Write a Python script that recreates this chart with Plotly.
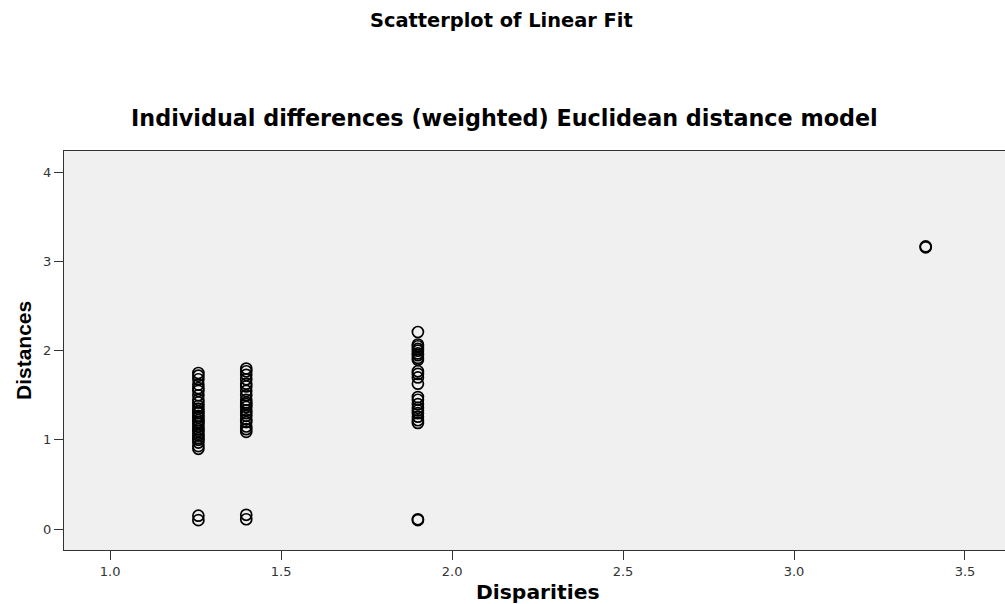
import plotly.graph_objects as go

# Disparity levels and the fitted distances observed at each level
disparity_levels = [1.258, 1.398, 1.90, 3.385]
distances_at_126 = [1.75, 1.72, 1.68, 1.62, 1.58, 1.55, 1.50, 1.45, 1.42, 1.38, 1.35,
                    1.32, 1.30, 1.27, 1.25, 1.22, 1.20, 1.18, 1.15, 1.12, 1.10, 1.07,
                    1.05, 1.02, 1.00, 0.97, 0.93, 0.90, 0.15, 0.10]
distances_at_140 = [1.80, 1.77, 1.73, 1.68, 1.63, 1.60, 1.55, 1.50, 1.45, 1.42, 1.40,
                    1.37, 1.33, 1.30, 1.27, 1.23, 1.20, 1.15, 1.12, 1.09, 0.16, 0.11]
distances_at_190 = [2.21, 2.07, 2.05, 2.02, 2.00, 1.97, 1.95, 1.92, 1.90, 1.77, 1.74,
                    1.70, 1.63, 1.48, 1.45, 1.40, 1.36, 1.33, 1.30, 1.26, 1.22, 1.19,
                    0.11, 0.10]
distances_at_339 = [3.17, 3.16]

groups = [distances_at_126, distances_at_140, distances_at_190, distances_at_339]
disparities = []
distances = []
for level, vals in zip(disparity_levels, groups):
    disparities += [level] * len(vals)
    distances += vals

x_ticks = [1.0, 1.5, 2.0, 2.5, 3.0, 3.5]
y_ticks = [0, 1, 2, 3, 4]

WIDE = "DejaVu Sans, Verdana, sans-serif"
SANS = "Liberation Sans, Arial, sans-serif"

W, H = 1005, 604
ML, MR, MT, MB = 64, 0, 151, 54
PW, PH = W - ML - MR, H - MT - MB


def px_x(x):
    """Page pixel x -> paper coordinate."""
    return (x - ML) / PW


def px_y(y):
    """Page pixel y (from top) -> paper coordinate."""
    return (H - MB - y) / PH


fig = go.Figure()
fig.add_trace(go.Scatter(
    x=disparities, y=distances, mode="markers",
    marker=dict(symbol="circle-open", size=11, color="black",
                line=dict(width=1.7, color="black")),
    showlegend=False, hoverinfo="x+y",
))

fig.update_layout(
    width=W, height=H,
    margin=dict(l=ML, r=MR, t=MT, b=MB),
    paper_bgcolor="white",
    plot_bgcolor="#f0f0f0",
    font=dict(family=WIDE, color="#222"),
    annotations=[
        dict(text="<b>Scatterplot of Linear Fit</b>", x=px_x(501), y=px_y(21),
             font=dict(family=WIDE, size=19.4, color="black")),
        dict(text="<b>Individual differences (weighted) Euclidean distance model</b>",
             x=px_x(504), y=px_y(118),
             font=dict(family=WIDE, size=22.3, color="black")),
        dict(text="<b>Disparities</b>", x=px_x(538), y=px_y(592),
             font=dict(family=WIDE, size=20.3, color="black")),
        dict(text="<b>Distances</b>", x=px_x(23), y=px_y(351), textangle=-90,
             font=dict(family=SANS, size=21, color="black")),
    ],
)
for ann in fig.layout.annotations:
    ann.xref = "paper"
    ann.yref = "paper"
    ann.showarrow = False
    ann.xanchor = "center"
    ann.yanchor = "middle"

fig.update_xaxes(
    range=[0.865, 3.617], tickvals=x_ticks, ticktext=[f"{v:.1f}" for v in x_ticks],
    showgrid=False, zeroline=False, showline=True, linecolor="#333", linewidth=1.3,
    mirror=True, ticks="outside", ticklen=9, tickwidth=1.3, tickcolor="#333",
    tickfont=dict(family=WIDE, size=13, color="#333"),
)
fig.update_yaxes(
    range=[-0.235, 4.24], tickvals=y_ticks,
    showgrid=False, zeroline=False, showline=True, linecolor="#333", linewidth=1.3,
    mirror=False, ticks="outside", ticklen=9, tickwidth=1.3, tickcolor="#333",
    tickfont=dict(family=WIDE, size=13, color="#333"),
)

fig.write_html("out.html")
